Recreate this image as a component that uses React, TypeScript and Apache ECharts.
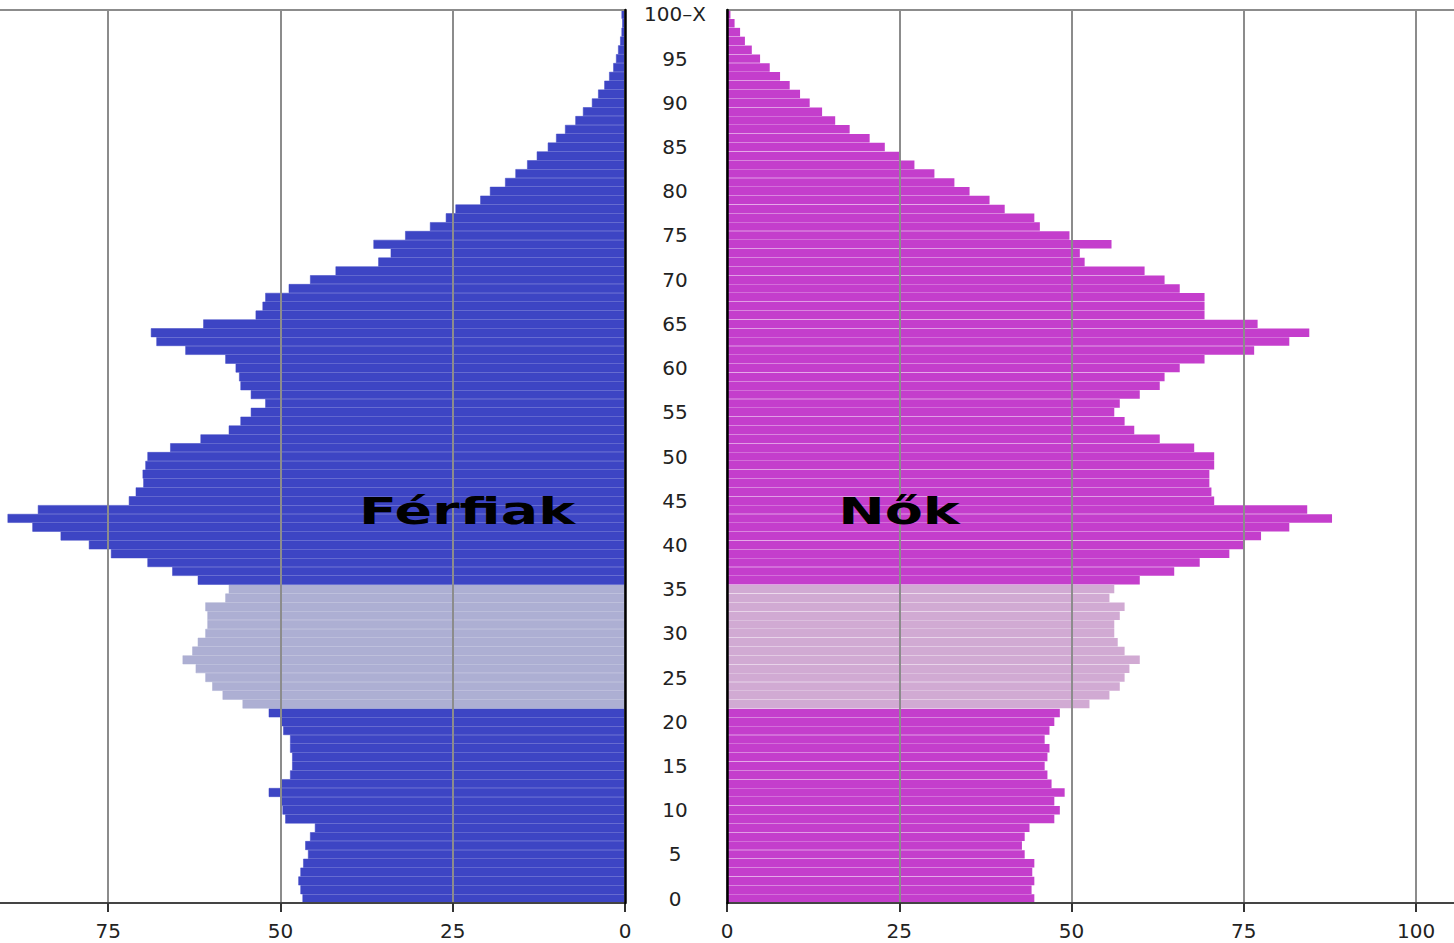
import React, { useEffect, useRef } from "react";
import * as echarts from "echarts";

// Ages 0 .. 100 (100 = "100–X")
const AGES: string[] = Array.from({ length: 101 }, (_, i) => String(i));

// Men (Férfiak), values per age 0..100
const MALE: number[] = [
  46.8, 47.1, 47.4, 47.1, 46.7, 46.0, 46.4, 45.7, 45.0, 49.3,
  49.7, 50.0, 51.7, 50.0, 48.6, 48.3, 48.3, 48.6, 48.6, 49.6,
  50.0, 51.7, 55.5, 58.4, 59.9, 60.9, 62.3, 64.2, 62.8, 62.0,
  60.9, 60.6, 60.6, 60.9, 58.0, 57.5, 62.0, 65.7, 69.3, 74.6,
  77.8, 81.9, 86.0, 89.6, 85.2, 72.0, 71.0, 69.9, 70.0, 69.6,
  69.3, 66.0, 61.6, 57.5, 55.8, 54.3, 52.2, 54.3, 55.8, 56.0,
  56.5, 58.0, 63.8, 68.0, 68.8, 61.2, 53.6, 52.6, 52.2, 48.8,
  45.7, 42.0, 35.8, 34.0, 36.5, 31.9, 28.3, 26.0, 24.6, 21.0,
  19.6, 17.4, 15.9, 14.2, 12.8, 11.2, 10.0, 8.7, 7.2, 6.1,
  4.8, 3.9, 3.0, 2.3, 1.7, 1.3, 1.0, 0.7, 0.5, 0.4,
  0.5,
];

// Women (Nők), values per age 0..100
const FEMALE: number[] = [
  44.6, 44.2, 44.6, 44.3, 44.6, 43.2, 42.8, 43.2, 43.9, 47.5,
  48.3, 47.5, 49.0, 47.1, 46.5, 46.1, 46.5, 46.8, 46.1, 46.8,
  47.5, 48.3, 52.6, 55.5, 57.0, 57.7, 58.4, 59.9, 57.7, 56.7,
  56.2, 56.2, 57.0, 57.7, 55.5, 56.2, 59.9, 64.9, 68.6, 72.9,
  75.0, 77.5, 81.6, 87.8, 84.2, 70.7, 70.3, 70.0, 70.0, 70.7,
  70.7, 67.8, 62.8, 59.1, 57.7, 56.2, 57.0, 59.9, 62.8, 63.5,
  65.7, 69.3, 76.5, 81.6, 84.5, 77.0, 69.3, 69.3, 69.3, 65.7,
  63.5, 60.6, 51.9, 51.2, 55.8, 49.7, 45.4, 44.6, 40.3, 38.1,
  35.2, 33.0, 30.1, 27.2, 25.0, 22.9, 20.7, 17.8, 15.7, 13.8,
  12.0, 10.6, 9.1, 7.7, 6.2, 4.8, 3.6, 2.6, 1.9, 1.1,
  0.5,
];

// Highlighted age band
const HIGHLIGHT_FROM = 22;
const HIGHLIGHT_TO = 35;

const X_TICKS_LEFT: number[] = [0, 25, 50, 75];
const X_TICKS_RIGHT: number[] = [0, 25, 50, 75, 100];

const MALE_COLOR = "#3d45c4";
const MALE_HL = "#adafd3";
const FEMALE_COLOR = "#c43ecc";
const FEMALE_HL = "#d1aad3";

const LEFT_MAX = 90.7;
const RIGHT_MAX = 105.5;

export default function App() {
  const ref = useRef<HTMLDivElement>(null);

  useEffect(() => {
    if (!ref.current) return;
    const chart = echarts.init(ref.current, undefined, { renderer: "svg" });
    const isHL = (i: number) => i >= HIGHLIGHT_FROM && i <= HIGHLIGHT_TO;

    const xAxisCommon = (ticks: number[]) => ({
      type: "value" as const,
      min: 0,
      interval: 25,
      z: 3,
      axisLine: { show: true, lineStyle: { color: "#444", width: 2 } },
      axisTick: { show: true, length: 9, lineStyle: { color: "#333", width: 2 } },
      splitLine: { show: true, showMaxLine: false, lineStyle: { color: "#8c8c8c", width: 2 } },
      axisLabel: {
        fontFamily: "DejaVu Sans",
        fontSize: 20,
        color: "#222",
        margin: 18,
        showMaxLabel: false,
        formatter: (v: number) => (ticks.indexOf(v) >= 0 ? String(v) : ""),
      },
    });

    const topBorder = (grid: number, max: number, inverse: boolean) => ({
      type: "value" as const,
      gridIndex: grid,
      position: "top" as const,
      min: 0,
      max,
      inverse,
      z: 3,
      axisLine: { show: true, lineStyle: { color: "#8c8c8c", width: 2 } },
      axisTick: { show: false },
      axisLabel: { show: false },
      splitLine: { show: false },
    });

    chart.setOption({
      animation: false,
      backgroundColor: "#fff",
      grid: [
        { left: 0, width: 625, top: 10, bottom: 40 },
        { left: 727, width: 727, top: 10, bottom: 40 },
      ],
      xAxis: [
        { ...xAxisCommon(X_TICKS_LEFT), gridIndex: 0, inverse: true, max: LEFT_MAX },
        { ...xAxisCommon(X_TICKS_RIGHT), gridIndex: 1, max: RIGHT_MAX },
        topBorder(0, LEFT_MAX, true),
        topBorder(1, RIGHT_MAX, false),
      ],
      yAxis: [
        {
          gridIndex: 0,
          type: "category",
          data: AGES,
          position: "right",
          z: 4,
          axisLine: { show: true, lineStyle: { color: "#000", width: 2.5 } },
          axisTick: { show: false },
          axisLabel: {
            interval: 4,
            align: "center",
            margin: 50,
            fontFamily: "DejaVu Sans",
            fontSize: 20,
            color: "#222",
            formatter: (v: string) => (v === "100" ? "100–X" : v),
          },
        },
        {
          gridIndex: 1,
          type: "category",
          data: AGES,
          position: "left",
          z: 4,
          axisLine: { show: true, lineStyle: { color: "#000", width: 2.5 } },
          axisTick: { show: false },
          axisLabel: { show: false },
        },
      ],
      series: [
        {
          name: "Férfiak",
          type: "bar",
          xAxisIndex: 0,
          yAxisIndex: 0,
          barCategoryGap: "0%",
          data: MALE.map((v, i) => {
            const c = isHL(i) ? MALE_HL : MALE_COLOR;
            return { value: v, itemStyle: { color: c, borderColor: c, borderWidth: 0.5 } };
          }),
        },
        {
          name: "Nők",
          type: "bar",
          xAxisIndex: 1,
          yAxisIndex: 1,
          barCategoryGap: "4%",
          data: FEMALE.map((v, i) => ({
            value: v,
            itemStyle: { color: isHL(i) ? FEMALE_HL : FEMALE_COLOR },
          })),
        },
      ],
      graphic: [
        {
          type: "text",
          x: 467,
          y: 511,
          scaleX: 1.5,
          z: 10,
          style: {
            text: "Férfiak",
            fontFamily: "DejaVu Sans",
            fontWeight: "bold",
            fontSize: 37,
            fill: "#000",
            align: "center",
            verticalAlign: "middle",
          },
        },
        {
          type: "text",
          x: 899,
          y: 511,
          scaleX: 1.5,
          z: 10,
          style: {
            text: "Nők",
            fontFamily: "DejaVu Sans",
            fontWeight: "bold",
            fontSize: 37,
            fill: "#000",
            align: "center",
            verticalAlign: "middle",
          },
        },
      ],
    });

    return () => chart.dispose();
  }, []);

  return (
    <div
      ref={ref}
      style={{ position: "fixed", left: 0, top: 0, width: 1454, height: 943, background: "#fff" }}
    />
  );
}
